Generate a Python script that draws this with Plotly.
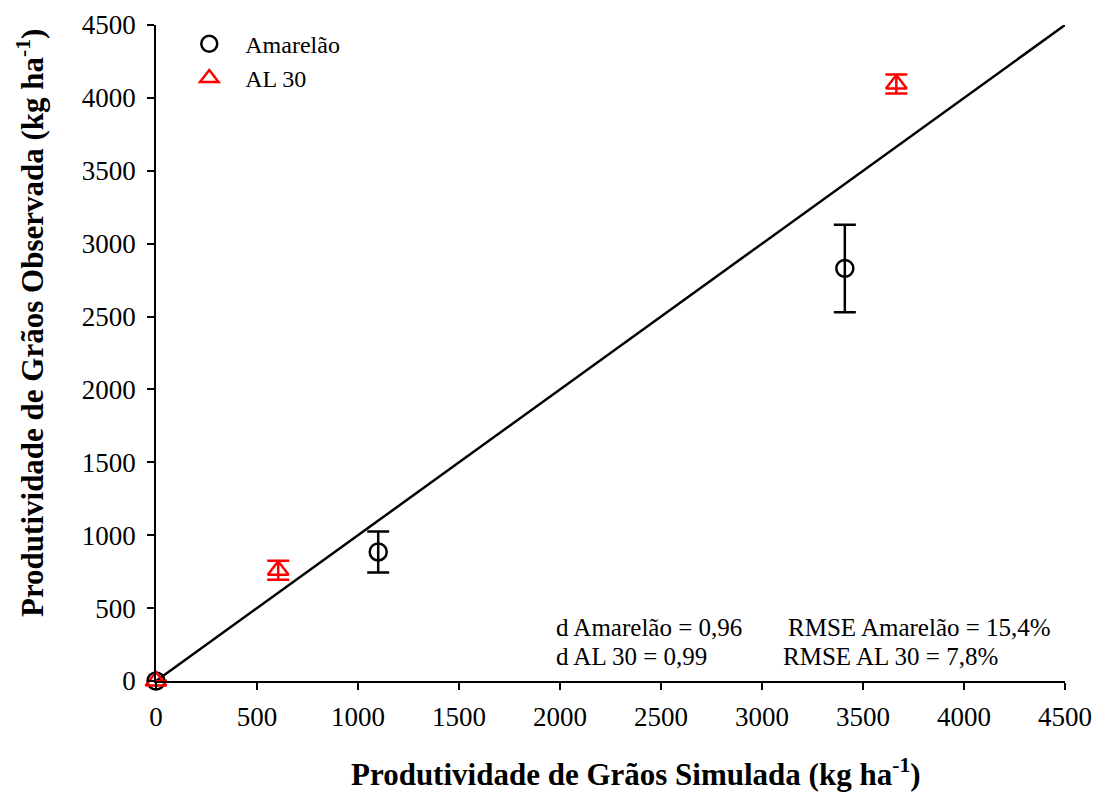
import plotly.graph_objects as go

# Data
amarelao_sim = [0, 1100, 3410]
amarelao_obs = [0, 885, 2830]
amarelao_err = [0, 140, 300]

al30_sim = [0, 605, 3665]
al30_obs = [0, 760, 4095]
al30_err = [0, 65, 65]

line_x = [0, 4500]
line_y = [0, 4500]

tick_vals = [0, 500, 1000, 1500, 2000, 2500, 3000, 3500, 4000, 4500]

FONT = "Liberation Serif"

fig = go.Figure()

fig.add_trace(go.Scatter(
    x=line_x, y=line_y, mode="lines",
    line=dict(color="black", width=2.5),
    showlegend=False, hoverinfo="skip", cliponaxis=False,
))

fig.add_trace(go.Scatter(
    x=amarelao_sim, y=amarelao_obs, mode="markers", name="Amarelão",
    marker=dict(symbol="circle-open", size=17, color="black", line=dict(width=2.5, color="black")),
    error_y=dict(type="data", array=amarelao_err, visible=True, color="black", thickness=2.5, width=11),
    cliponaxis=False,
))

fig.add_trace(go.Scatter(
    x=al30_sim, y=al30_obs, mode="markers", name="AL 30",
    marker=dict(symbol="triangle-up-open", size=18, color="red", line=dict(width=2.5, color="red")),
    error_y=dict(type="data", array=al30_err, visible=True, color="red", thickness=2.5, width=11),
    cliponaxis=False,
))

ann_font = dict(family=FONT, size=25, color="black")
fig.add_annotation(x=0.438, y=0.082, xref="paper", yref="paper", xanchor="left", yanchor="middle",
                   text="d Amarelão = 0,96", showarrow=False, font=ann_font)
fig.add_annotation(x=0.693, y=0.082, xref="paper", yref="paper", xanchor="left", yanchor="middle",
                   text="RMSE Amarelão = 15,4%", showarrow=False, font=ann_font)
fig.add_annotation(x=0.438, y=0.038, xref="paper", yref="paper", xanchor="left", yanchor="middle",
                   text="d AL 30 = 0,99", showarrow=False, font=ann_font)
fig.add_annotation(x=0.688, y=0.038, xref="paper", yref="paper", xanchor="left", yanchor="middle",
                   text="RMSE AL 30 = 7,8%", showarrow=False, font=ann_font)

title_font = dict(family=FONT, size=31, color="black")
fig.add_annotation(x=0.528, y=-0.14, xref="paper", yref="paper", xanchor="center", yanchor="middle",
                   text="<b>Produtividade de Grãos Simulada (kg ha<sup>-1</sup>)</b>",
                   showarrow=False, font=title_font)
fig.add_annotation(x=-0.138, y=0.545, xref="paper", yref="paper", xanchor="center", yanchor="middle",
                   textangle=-90,
                   text="<b>Produtividade de Grãos Observada (kg ha<sup>-1</sup>)</b>",
                   showarrow=False, font=title_font)

axis_common = dict(
    showgrid=False, zeroline=False, showline=True, linecolor="black", linewidth=1.5,
    ticks="outside", ticklen=7, tickwidth=1.5, tickcolor="black",
    tickfont=dict(family=FONT, size=27, color="black"),
    tickvals=tick_vals, range=[0, 4500], automargin=False,
)

fig.update_layout(
    width=1095, height=794,
    margin=dict(l=156, r=30, t=25, b=113),
    paper_bgcolor="white", plot_bgcolor="white",
    xaxis=dict(**axis_common, ticklabelstandoff=4),
    yaxis=dict(**axis_common, ticklabelstandoff=6),
    legend=dict(x=0.019, y=1.005, xanchor="left", yanchor="top", bgcolor="rgba(0,0,0,0)",
                font=dict(family=FONT, size=24, color="black"), tracegroupgap=0,
                itemwidth=62),
    showlegend=True,
)

fig.write_html("out.html")
